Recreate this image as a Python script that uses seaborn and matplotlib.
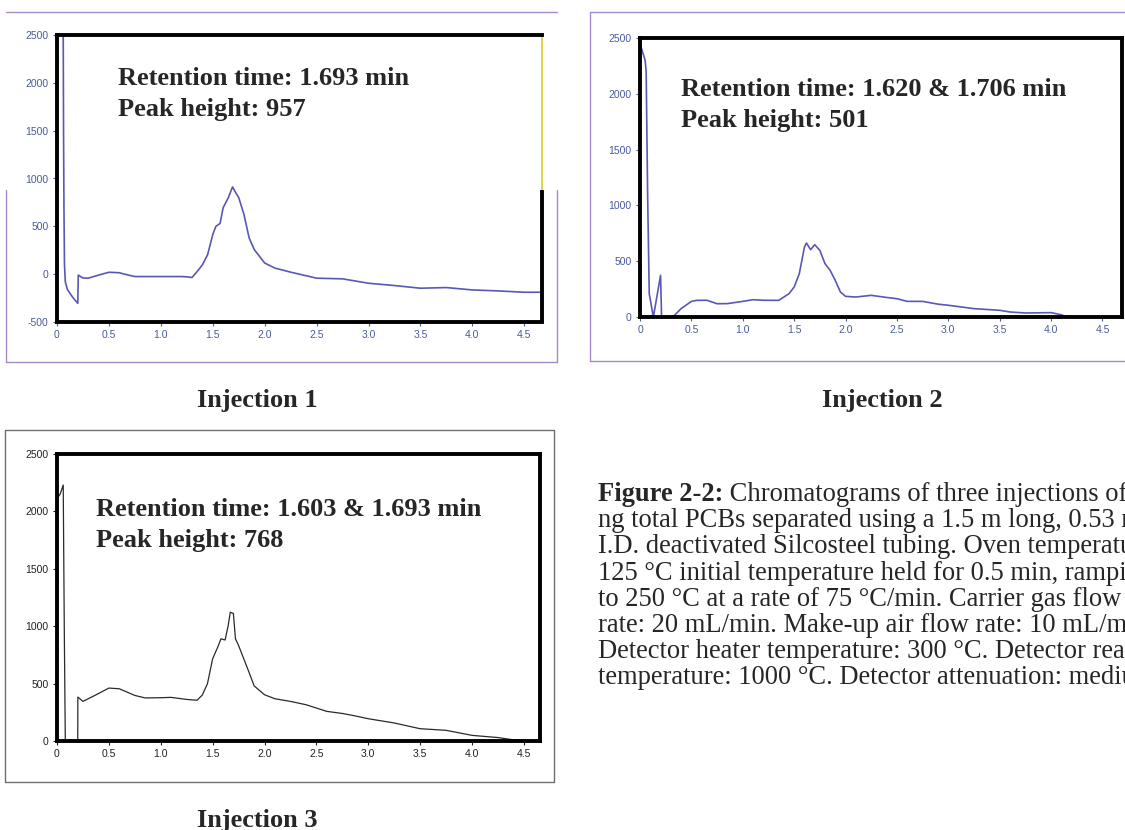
import numpy as np
import pandas as pd
import matplotlib
matplotlib.use("Agg")
import matplotlib.pyplot as plt
import seaborn as sns
from matplotlib.lines import Line2D

# ---------------- data ----------------
inj1_time = [0.060, 0.063, 0.067, 0.072, 0.080, 0.100, 0.150, 0.200, 0.205, 0.25, 0.30, 0.40,
             0.50, 0.60, 0.65, 0.75, 0.90, 1.05, 1.20, 1.25, 1.30, 1.35, 1.40, 1.45, 1.50,
             1.53, 1.57, 1.60, 1.65, 1.69, 1.72, 1.75, 1.80, 1.85, 1.90, 2.00, 2.10, 2.25,
             2.50, 2.75, 3.00, 3.25, 3.50, 3.75, 4.00, 4.25, 4.50, 4.66]
inj1_signal = [2500, 1500, 700, 100, -80, -160, -240, -305, -10, -40, -42, -10,
               20, 15, 0, -25, -25, -25, -25, -28, -35, 28, 98, 203, 414,
               500, 530, 695, 800, 912, 853, 800, 625, 379, 256, 116, 63, 21,
               -42, -49, -95, -119, -147, -140, -165, -175, -189, -189]

inj2_time = [0.0, 0.05, 0.06, 0.075, 0.09, 0.13, 0.20, 0.21, 0.32, 0.40, 0.50, 0.55, 0.65,
             0.75, 0.85, 1.00, 1.10, 1.20, 1.35, 1.45, 1.50, 1.55, 1.60, 1.62, 1.66, 1.70,
             1.75, 1.80, 1.85, 1.90, 1.95, 2.00, 2.10, 2.25, 2.40, 2.50, 2.60, 2.75, 2.90,
             3.00, 3.25, 3.50, 3.60, 3.75, 4.00, 4.10, 4.15]
inj2_signal = [2450, 2300, 2200, 1045, 209, 0, 373, 0, 0, 75, 140, 149, 150,
               119, 120, 140, 155, 150, 149, 209, 269, 388, 627, 663, 603, 648,
               597, 478, 418, 328, 224, 185, 179, 194, 175, 164, 140, 140, 115,
               105, 75, 60, 45, 36, 39, 20, 0]

inj3_time = [0.0, 0.03, 0.06, 0.07, 0.08, 0.20, 0.201, 0.25, 0.35, 0.50, 0.60, 0.75, 0.85,
             1.00, 1.10, 1.25, 1.35, 1.40, 1.45, 1.50, 1.55, 1.58, 1.62, 1.65, 1.67, 1.70,
             1.72, 1.75, 1.80, 1.85, 1.90, 2.00, 2.10, 2.25, 2.40, 2.50, 2.60, 2.75, 2.85,
             3.00, 3.25, 3.50, 3.75, 4.00, 4.25, 4.40, 4.50]
inj3_signal = [2110, 2150, 2230, 1000, 0, 0, 383, 345, 390, 461, 455, 397, 375,
               377, 380, 362, 355, 400, 499, 716, 820, 890, 880, 1006, 1122, 1110,
               890, 832, 716, 600, 480, 403, 368, 345, 316, 287, 258, 240, 223,
               194, 157, 107, 93, 49, 30, 10, 5]

x_ticks = [0, 0.5, 1.0, 1.5, 2.0, 2.5, 3.0, 3.5, 4.0, 4.5]
x_tick_labels = ["0", "0.5", "1.0", "1.5", "2.0", "2.5", "3.0", "3.5", "4.0", "4.5"]
y_ticks_1 = [-500, 0, 500, 1000, 1500, 2000, 2500]
y_ticks_23 = [0, 500, 1000, 1500, 2000, 2500]

panel_titles = ["Injection 1", "Injection 2", "Injection 3"]
retention_labels = ["Retention time: 1.693 min",
                    "Retention time: 1.620 & 1.706 min",
                    "Retention time: 1.603 & 1.693 min"]
peak_labels = ["Peak height: 957", "Peak height: 501", "Peak height: 768"]

caption_bold = "Figure 2-2:"
caption_lines = [
    " Chromatograms of three injections of",
    "ng total PCBs separated using a 1.5 m long, 0.53 mm",
    "I.D. deactivated Silcosteel tubing. Oven temperature:",
    "125 \u00b0C initial temperature held for 0.5 min, ramping",
    "to 250 \u00b0C at a rate of 75 \u00b0C/min. Carrier gas flow",
    "rate: 20 mL/min. Make-up air flow rate: 10 mL/min.",
    "Detector heater temperature: 300 \u00b0C. Detector reactor",
    "temperature: 1000 \u00b0C. Detector attenuation: medium.",
]

# ---------------- figure ----------------
sns.set_style("white")
plt.rcParams["font.family"] = ["Liberation Sans", "DejaVu Sans"]

W, H = 1125, 830
fig = plt.figure(figsize=(W / 100, H / 100), dpi=100)
fig.patch.set_facecolor("white")


def fx(x):
    return x / W


def fy(y):
    return 1 - y / H


def px_axes(left, top, right, bottom):
    return fig.add_axes([left / W, 1 - bottom / H, (right - left) / W, (bottom - top) / H])


def frame(x0, y0, x1, y1, color, lw=1.0, sides_from=None):
    fig.add_artist(Line2D([fx(x0), fx(x1)], [fy(y0), fy(y0)], color=color, lw=lw))
    fig.add_artist(Line2D([fx(x0), fx(x1)], [fy(y1), fy(y1)], color=color, lw=lw))
    ys = y0 if sides_from is None else sides_from
    fig.add_artist(Line2D([fx(x0), fx(x0)], [fy(ys), fy(y1)], color=color, lw=lw))
    fig.add_artist(Line2D([fx(x1), fx(x1)], [fy(ys), fy(y1)], color=color, lw=lw))


serif = ["Liberation Serif", "DejaVu Serif"]

panels = [
    dict(box=(57, 35, 542, 322), t=inj1_time, s=inj1_signal, yt=y_ticks_1, ylim=(-500, 2500),
         xlim=(0, 4.67), line="#5a58b4", tick="#4a5a9c", lw=1.2,
         ann=(118, 85, 116)),
    dict(box=(640, 38, 1122, 317), t=inj2_time, s=inj2_signal, yt=y_ticks_23, ylim=(0, 2500),
         xlim=(0, 4.69), line="#5a58b4", tick="#4a5a9c", lw=1.2,
         ann=(681, 96, 127)),
    dict(box=(57, 454, 540, 741), t=inj3_time, s=inj3_signal, yt=y_ticks_23, ylim=(0, 2500),
         xlim=(0, 4.655), line="#2a2a2a", tick="#222222", lw=0.9,
         ann=(96, 516, 547)),
]

axes = []
for i, p in enumerate(panels):
    ax = px_axes(*p["box"])
    df = pd.DataFrame({"time": p["t"], "signal": p["s"]})
    sns.lineplot(data=df, x="time", y="signal", ax=ax, color=p["line"], lw=p["lw"],
                 sort=False, estimator=None)
    ax.set_xlim(*p["xlim"])
    ax.set_ylim(*p["ylim"])
    ax.set_xticks(x_ticks)
    ax.set_xticklabels(x_tick_labels)
    ax.set_yticks(p["yt"])
    ax.set_yticklabels([str(v) for v in p["yt"]])
    ax.set_xlabel("")
    ax.set_ylabel("")
    ax.set_facecolor("white")
    for sp in ax.spines.values():
        sp.set_visible(True)
        sp.set_color("black")
        sp.set_linewidth(2.8)
    ax.tick_params(axis="both", which="major", direction="out", length=3, width=0.8,
                   colors=p["tick"], labelsize=7.5, pad=3, left=True, bottom=True)
    x0, yb1, yb2 = p["ann"]
    fig.text(fx(x0), fy(yb1), retention_labels[i], family=serif, weight="bold",
             fontsize=19, va="baseline", ha="left")
    fig.text(fx(x0), fy(yb2), peak_labels[i], family=serif, weight="bold",
             fontsize=19, va="baseline", ha="left")
    axes.append(ax)

# panel 1 right spine: yellowish upper part, black lower part
ax1 = axes[0]
ax1.spines["right"].set_visible(False)
ax1.plot([1, 1], [0, 0.46], transform=ax1.transAxes, color="black", lw=2.8,
         clip_on=False, solid_capstyle="butt")
ax1.plot([1, 1], [0.46, 1], transform=ax1.transAxes, color="#d8cc20", lw=1.2,
         clip_on=False, solid_capstyle="butt")

# outer frames
frame(6, 12, 557, 362, "#a58cc8", lw=1.0, sides_from=190)
frame(590, 12, 1135, 361, "#a58cc8", lw=1.0)
frame(5, 430, 554, 782, "#6e6e6e", lw=1.0)

# panel titles
fig.text(fx(257), fy(407), panel_titles[0], family=serif, weight="bold", fontsize=19,
         ha="center", va="baseline")
fig.text(fx(882), fy(407), panel_titles[1], family=serif, weight="bold", fontsize=19,
         ha="center", va="baseline")
fig.text(fx(257), fy(827), panel_titles[2], family=serif, weight="bold", fontsize=19,
         ha="center", va="baseline")

# caption
cap_x = 598
cap_base = 501
cap_step = 26.2
cap_size = 19.1
fig.canvas.draw()
renderer = fig.canvas.get_renderer()
tb = fig.text(fx(cap_x), fy(cap_base), caption_bold, family=serif, weight="bold",
              fontsize=cap_size, va="baseline", ha="left")
bw = tb.get_window_extent(renderer=renderer).width
for k, line in enumerate(caption_lines):
    xx = cap_x + (bw if k == 0 else 0)
    fig.text(fx(xx), fy(cap_base + k * cap_step), line, family=serif, fontsize=cap_size,
             va="baseline", ha="left")

fig.savefig("out.png", dpi=100, facecolor="white")
